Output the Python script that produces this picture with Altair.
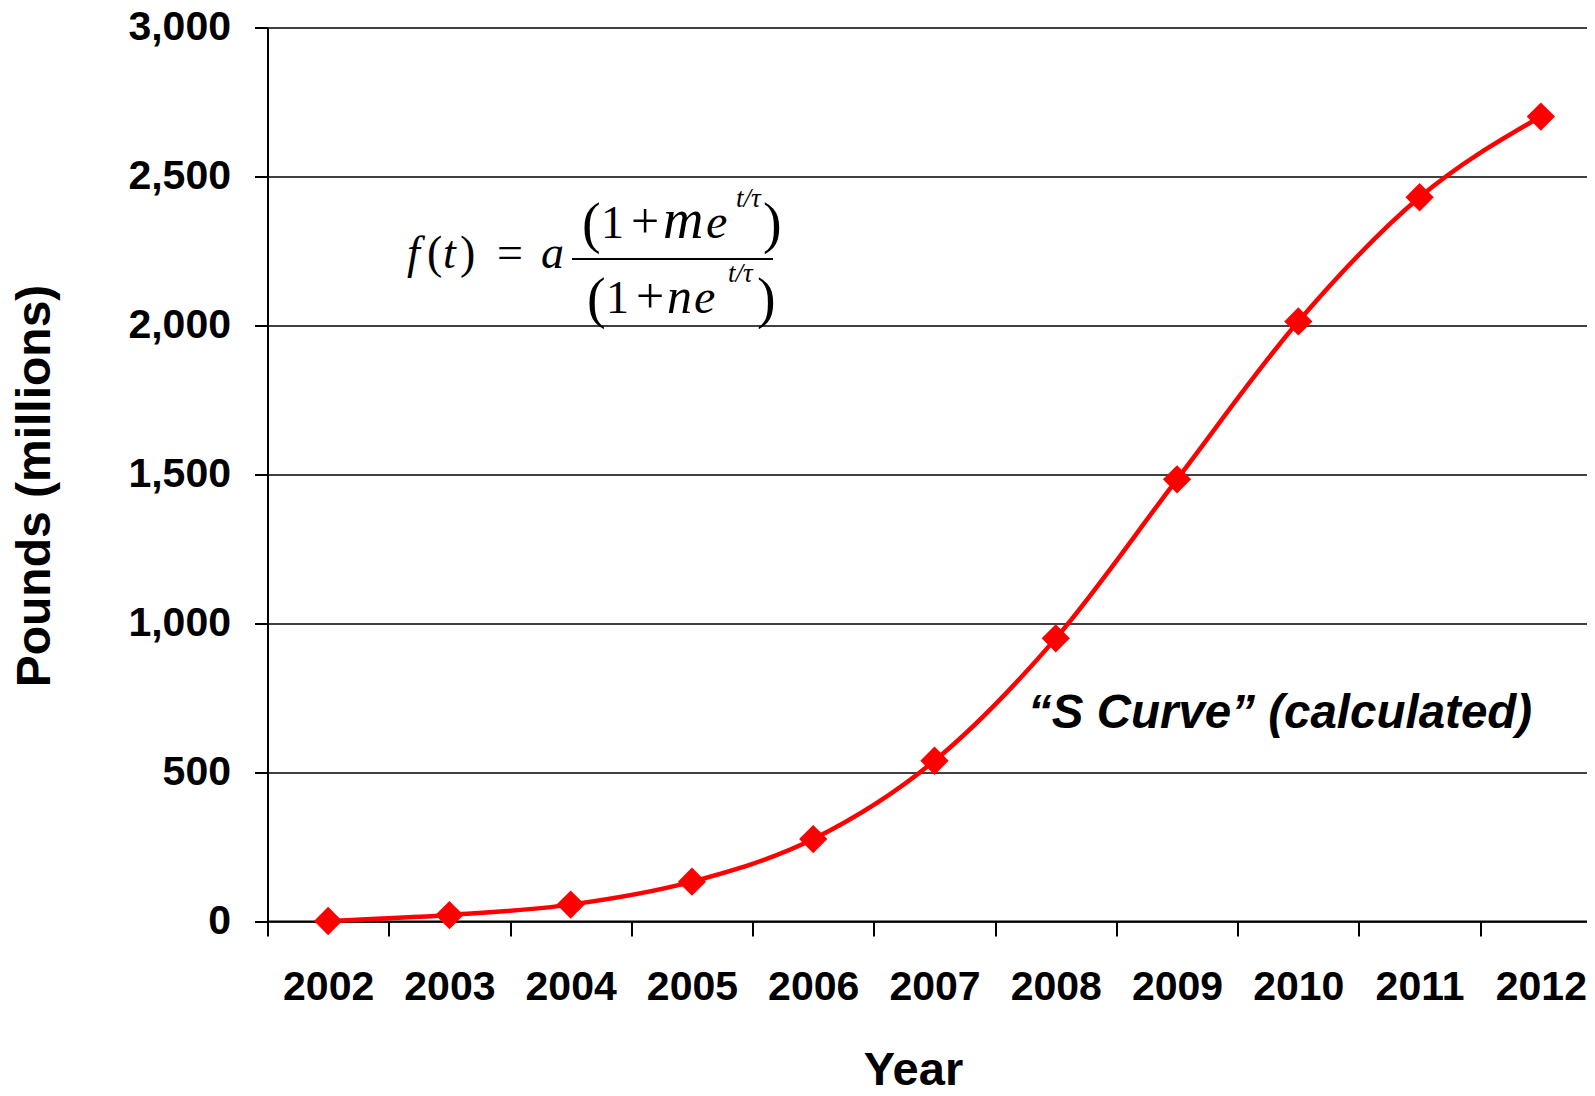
import altair as alt
import pandas as pd

# ---------------- data ----------------
years = ["2002", "2003", "2004", "2005", "2006", "2007",
         "2008", "2009", "2010", "2011", "2012"]
pounds = [0, 20, 55, 132, 275, 538, 949, 1483, 2013, 2430, 2701]
y_ticks = [0, 500, 1000, 1500, 2000, 2500, 3000]

df = pd.DataFrame({"year": years, "pounds": pounds})

# ---------------- layout ----------------
OX, OY = 267.5, 27.5          # plot origin on the page
W, H = 1319.5, 893.5          # visible plot area
BAND_RANGE = 1334             # full category range (continues past the window edge)
PAD = {"left": OX - 8, "top": OY - 8, "right": 0, "bottom": 1080 - (OY - 8) - H}

SANS = "Liberation Sans"
SERIF = "Liberation Serif"

x_enc = alt.X(
    "year:N",
    bandPosition=0.5,
    scale=alt.Scale(type="band", range=[0, BAND_RANGE], paddingInner=0, paddingOuter=0),
    axis=alt.Axis(
        tickBand="extent", labelAngle=0, grid=False,
        labelFont=SANS, labelFontWeight="bold", labelFontSize=41, labelColor="black",
        labelPadding=31, tickSize=15, tickWidth=2, tickColor="black",
        domainColor="black", domainWidth=2,
        title="Year", titleFont=SANS, titleFontWeight="bold", titleFontSize=47,
        titleColor="black", titleX=645.5, titleY=163, titleAlign="center",
        titleBaseline="alphabetic", titleAnchor="start",
    ),
)
y_enc = alt.Y(
    "pounds:Q",
    scale=alt.Scale(domain=[0, 3000], nice=False, zero=True),
    axis=alt.Axis(
        values=y_ticks, format=",.0f",
        labelFont=SANS, labelFontWeight="bold", labelFontSize=41, labelColor="black",
        labelPadding=24, tickSize=13, tickWidth=2, tickColor="black",
        domainColor="black", domainWidth=2,
        grid=True, gridColor="black", gridWidth=1.6, gridOpacity=1,
        title="Pounds (millions)", titleFont=SANS, titleFontWeight="bold",
        titleFontSize=48, titleColor="black", titleAngle=270,
        titleX=-218.5, titleY=458, titleAlign="center", titleBaseline="alphabetic",
        titleAnchor="start",
    ),
)

base = alt.Chart(df)
line = base.mark_line(color="#FF0000", strokeWidth=4.5, interpolate="monotone").encode(x=x_enc, y=y_enc)
points = base.mark_point(shape="diamond", filled=True, color="#FF0000", opacity=1, size=800).encode(
    x=x_enc, y=y_enc)


def label(txt, px, py, size, font=SANS, weight="normal", style="normal", align="left"):
    return alt.Chart(pd.DataFrame({"t": [txt]})).mark_text(
        font=font, fontSize=size, fontWeight=weight, fontStyle=style,
        align=align, baseline="alphabetic", color="black",
    ).encode(text="t:N", x=alt.value(px - OX), y=alt.value(py - OY))


texts = [
    label("\u201cS Curve\u201d (calculated)", 1028, 728, 47.5, SANS, "bold", "italic"),
    # f(t) = a
    label("f", 407, 268, 46, SERIF, style="italic"),
    label("(", 427, 268, 46, SERIF),
    label("t", 443, 268, 46, SERIF, style="italic"),
    label(")", 460, 268, 46, SERIF),
    label("=", 510, 268, 46, SERIF, align="center"),
    label("a", 541, 268, 46, SERIF, style="italic"),
    # numerator
    label("(", 582, 242, 56, SERIF),
    label("1", 601, 238, 46, SERIF),
    label("+", 645, 238, 50, SERIF, align="center"),
    label("m", 663, 238, 56, SERIF, style="italic"),
    label("e", 706, 238, 48, SERIF, style="italic"),
    label("t/\u03c4", 736, 207, 27, SERIF, style="italic"),
    label(")", 763, 242, 56, SERIF),
    # denominator
    label("(", 587, 317, 56, SERIF),
    label("1", 606, 313, 46, SERIF),
    label("+", 650, 313, 50, SERIF, align="center"),
    label("n", 667, 313, 50, SERIF, style="italic"),
    label("e", 694, 313, 48, SERIF, style="italic"),
    label("t/\u03c4", 728, 282, 27, SERIF, style="italic"),
    label(")", 757, 317, 56, SERIF),
]

bar = alt.Chart(pd.DataFrame({"t": [0]})).mark_rule(color="black", strokeWidth=2).encode(
    x=alt.value(572 - OX), x2=alt.value(773 - OX), y=alt.value(259 - OY))

chart = alt.layer(line, points, bar, *texts).properties(
    width=W, height=H, padding=PAD, autosize=alt.AutoSizeParams(type="none"),
    background="white",
).configure_view(stroke=None)

chart.save("out.html", embed_options={"renderer": "svg", "actions": False})
